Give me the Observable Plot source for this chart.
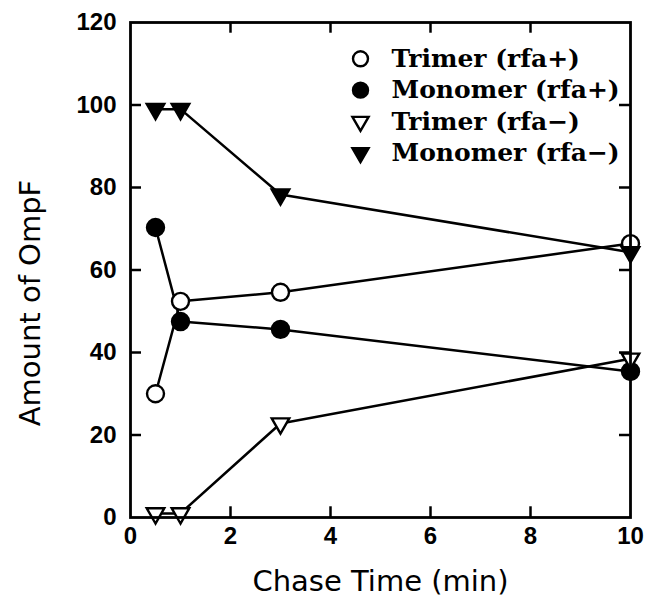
<!DOCTYPE html>
<html>
<head>
<meta charset="utf-8">
<script src="https://cdn.jsdelivr.net/npm/d3@7"></script>
<script src="https://cdn.jsdelivr.net/npm/@observablehq/plot@0.6"></script>
<style>
  html, body { margin: 0; padding: 0; background: #fff; }
  #chart { width: 648px; height: 609px; }
</style>
</head>
<body>
<div id="chart"></div>
<script>
// ---- data ----
const chaseTimes = [0.5, 1, 3, 10];
const trimerRfaPlus = [30, 52.4, 54.6, 66.4];
const monomerRfaPlus = [70.3, 47.5, 45.6, 35.4];
const trimerRfaMinus = [1, 1, 22.8, 38.5];
const monomerRfaMinus = [99, 99, 78.3, 64.3];
const seriesNames = ["Trimer (rfa+)", "Monomer (rfa+)", "Trimer (rfa\u2212)", "Monomer (rfa\u2212)"];
const xTicks = [0, 2, 4, 6, 8, 10];
const yTicks = [0, 20, 40, 60, 80, 100, 120];
const xTitle = "Chase Time (min)";
const yTitle = "Amount of OmpF";

// ---- styles ----
const seriesValues = [trimerRfaPlus, monomerRfaPlus, trimerRfaMinus, monomerRfaMinus];
const styles = [
  {symbol: "circle", fill: "white", rotate: 0, r: 8.5, lr: 7.5},
  {symbol: "circle", fill: "black", rotate: 0, r: 8.5, lr: 7.5},
  {symbol: "triangle", fill: "white", rotate: 180, r: 6.5, lr: 6},
  {symbol: "triangle", fill: "black", rotate: 180, r: 6.5, lr: 6}
];

const rows = seriesNames.flatMap((name, s) =>
  chaseTimes.map((t, i) => ({series: name, s, t, v: seriesValues[s][i]}))
);

const marks = [];
// lines
marks.push(Plot.line(rows, {x: "t", y: "v", z: "series", stroke: "black", strokeWidth: 2.5}));
// points
seriesNames.forEach((name, s) => {
  const st = styles[s];
  marks.push(Plot.dot(rows.filter(d => d.s === s), {
    x: "t", y: "v", symbol: st.symbol, r: st.r, fill: st.fill, stroke: "black",
    strokeWidth: 2.4, rotate: st.rotate
  }));
});
// legend
seriesNames.forEach((name, s) => {
  const st = styles[s];
  const ly = 111.2 - s * 7.6;
  marks.push(Plot.dot([name], {
    x: () => 4.6, y: () => ly, symbol: st.symbol, r: st.lr, fill: st.fill,
    stroke: "black", strokeWidth: 2.4, rotate: st.rotate
  }));
  marks.push(Plot.text([name], {
    x: () => 5.22, y: () => ly, text: d => d, textAnchor: "start",
    fontFamily: "DejaVu Serif", fontWeight: "bold", fontSize: 25, fill: "black"
  }));
});
// inward ticks
const innerX = xTicks.slice(1, -1);
const innerY = yTicks.slice(1, -1);
marks.push(Plot.ruleX(innerX, {x: d => d, y1: 0, y2: 2.6, stroke: "black", strokeWidth: 2.5}));
marks.push(Plot.ruleX(innerX, {x: d => d, y1: 117.4, y2: 120, stroke: "black", strokeWidth: 2.5}));
marks.push(Plot.ruleY(innerY, {y: d => d, x1: 0, x2: 0.22, stroke: "black", strokeWidth: 2.5}));
marks.push(Plot.ruleY(innerY, {y: d => d, x1: 9.78, x2: 10, stroke: "black", strokeWidth: 2.5}));
// frame
marks.push(Plot.frame({stroke: "black", strokeWidth: 2.8}));
// axes labels
marks.push(Plot.axisX(xTicks, {tickSize: 0, tickPadding: 9, fontSize: 24, fontWeight: "bold", label: null, fontFamily: "Liberation Sans"}));
marks.push(Plot.axisY(yTicks, {tickSize: 0, tickPadding: 14, fontSize: 24, fontWeight: "bold", label: null, fontFamily: "Liberation Sans"}));
// titles
marks.push(Plot.text([xTitle], {frameAnchor: "bottom", dy: 64, text: d => d, fontSize: 29, fontFamily: "DejaVu Sans", lineAnchor: "middle"}));
marks.push(Plot.text([yTitle], {x: () => -2, y: () => 52, rotate: -90, text: d => d, fontSize: 29, fontFamily: "DejaVu Sans", lineAnchor: "middle", textAnchor: "middle"}));

const chart = Plot.plot({
  width: 648,
  height: 609,
  marginLeft: 130,
  marginRight: 18,
  marginTop: 22,
  marginBottom: 92,
  x: {domain: [0, 10], axis: null},
  y: {domain: [0, 120], axis: null},
  clip: false,
  style: {background: "white", color: "black", overflow: "visible"},
  marks
});
document.getElementById("chart").appendChild(chart);
</script>
</body>
</html>
